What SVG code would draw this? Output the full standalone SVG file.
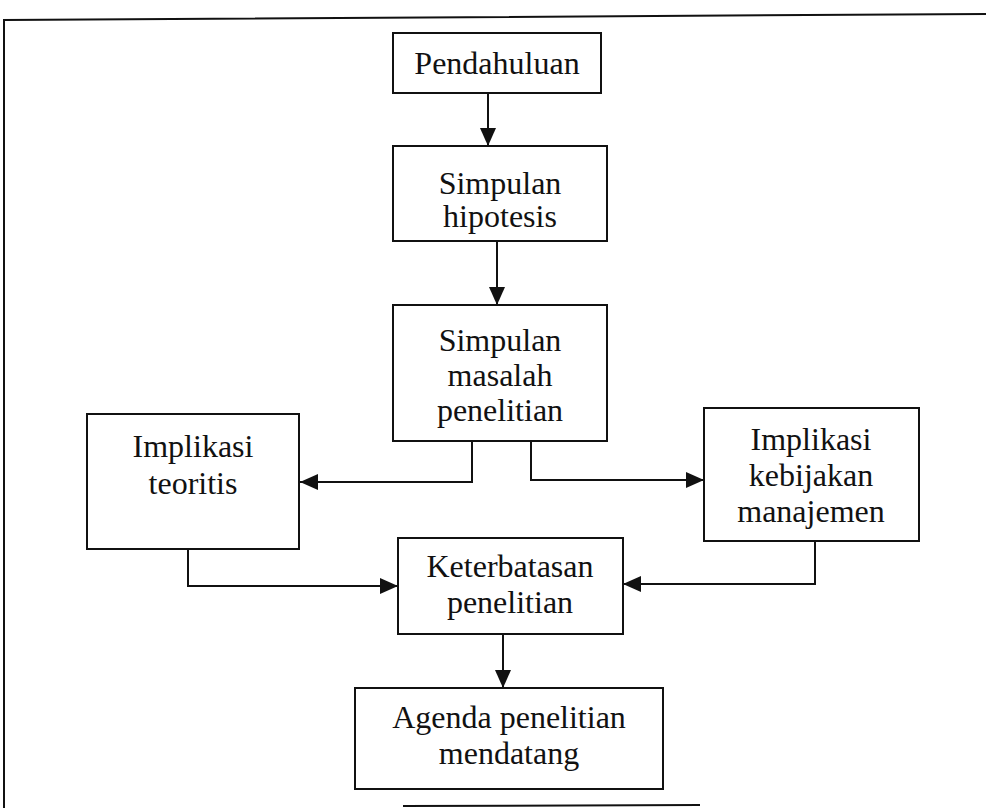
<svg xmlns="http://www.w3.org/2000/svg" width="986" height="808" viewBox="0 0 986 808">
  <defs>
    <marker id="arrow" viewBox="0 0 18 16" refX="18" refY="8" markerWidth="18" markerHeight="16" markerUnits="userSpaceOnUse" orient="auto">
      <path d="M0,0 L18,8 L0,16 Z" fill="#111"/>
    </marker>
  </defs>
  <style>
    .box { fill: #fff; stroke: #111; stroke-width: 2; }
    .lbl { font-family: "Liberation Serif", "Times New Roman", serif; font-size: 32px; fill: #111; text-anchor: middle; }
    .wire { fill: none; stroke: #111; stroke-width: 2; marker-end: url(#arrow); }
    .frame { fill: none; stroke: #111; stroke-width: 2; }
  </style>
  <rect width="986" height="808" fill="#fff"/>

  <!-- page frame -->
  <g id="frame">
    <path class="frame" d="M4,808 L4,20 L986,14"/>
    <path class="frame" d="M403,806 L700,805"/>
  </g>

  <g id="connectors">
    <path class="wire" d="M488,93 L488,146"/>
    <path class="wire" d="M497,241 L497,305"/>
    <path class="wire" d="M472,441 L472,482 L300,482"/>
    <path class="wire" d="M531,441 L531,480 L704,480"/>
    <path class="wire" d="M188,549 L188,586 L398,586"/>
    <path class="wire" d="M815,541 L815,584 L623,584"/>
    <path class="wire" d="M503,634 L503,688"/>
  </g>

  <g id="pendahuluan">
    <rect class="box" x="393" y="33" width="208" height="60"/>
    <text class="lbl" x="497" y="74">Pendahuluan</text>
  </g>

  <g id="simpulan-hipotesis">
    <rect class="box" x="393" y="146" width="214" height="95"/>
    <text class="lbl" x="500" y="194">Simpulan</text>
    <text class="lbl" x="500" y="227">hipotesis</text>
  </g>

  <g id="simpulan-masalah">
    <rect class="box" x="393" y="305" width="214" height="136"/>
    <text class="lbl" x="500" y="351">Simpulan</text>
    <text class="lbl" x="500" y="386">masalah</text>
    <text class="lbl" x="500" y="421">penelitian</text>
  </g>

  <g id="implikasi-teoritis">
    <rect class="box" x="87" y="414" width="212" height="135"/>
    <text class="lbl" x="193" y="457">Implikasi</text>
    <text class="lbl" x="193" y="494">teoritis</text>
  </g>

  <g id="implikasi-kebijakan">
    <rect class="box" x="704" y="408" width="215" height="133"/>
    <text class="lbl" x="811" y="450">Implikasi</text>
    <text class="lbl" x="811" y="486">kebijakan</text>
    <text class="lbl" x="811" y="522">manajemen</text>
  </g>

  <g id="keterbatasan">
    <rect class="box" x="398" y="538" width="225" height="96"/>
    <text class="lbl" x="510" y="577">Keterbatasan</text>
    <text class="lbl" x="510" y="613">penelitian</text>
  </g>

  <g id="agenda">
    <rect class="box" x="355" y="688" width="308" height="101"/>
    <text class="lbl" x="509" y="728">Agenda penelitian</text>
    <text class="lbl" x="509" y="764">mendatang</text>
  </g>
</svg>
